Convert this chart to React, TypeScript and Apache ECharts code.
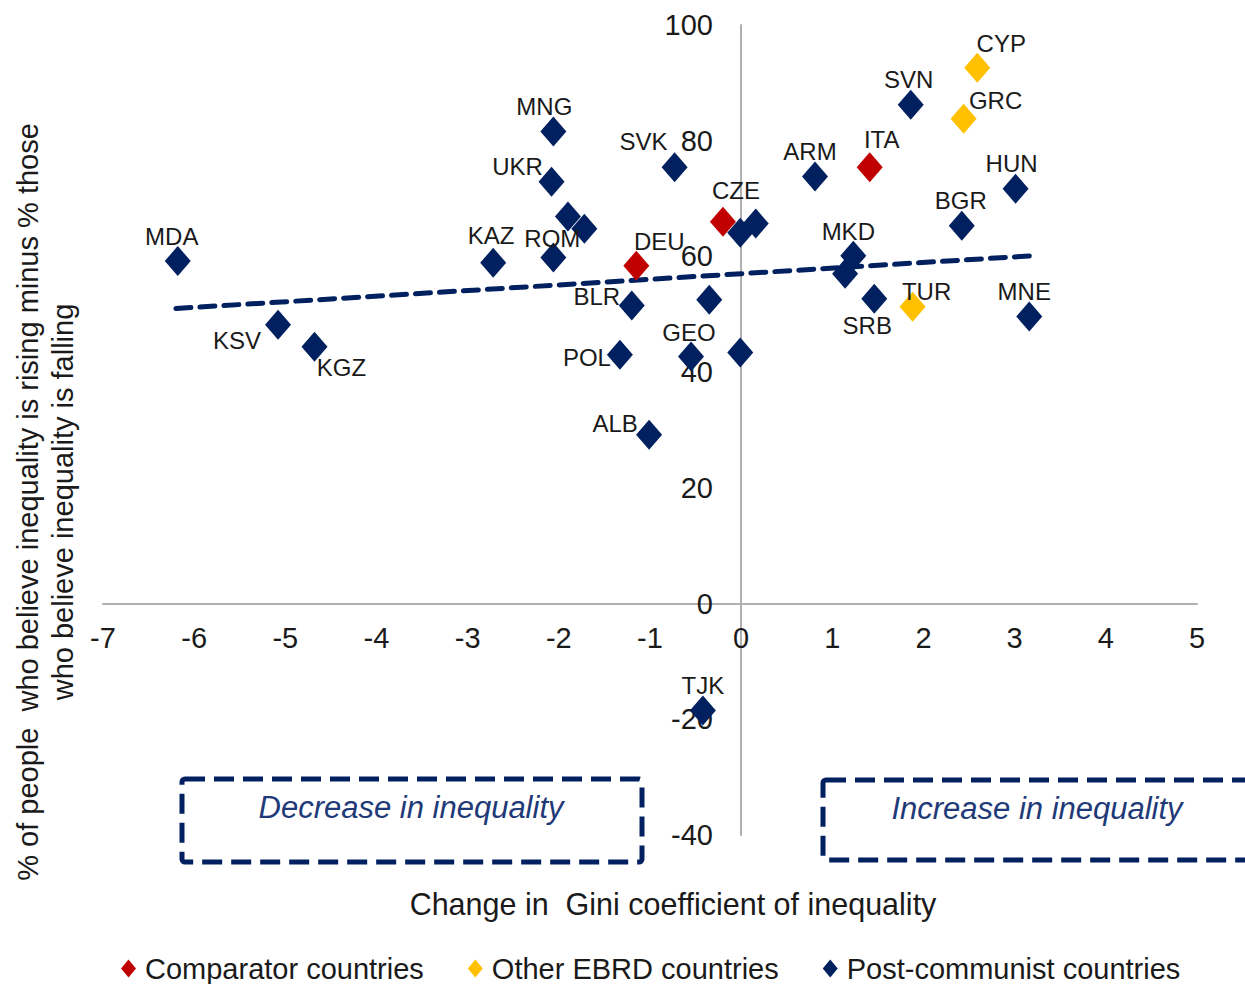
import React, { useEffect, useRef } from "react";
import * as echarts from "echarts";

// ---- Data ----
const comparatorNames = ["DEU", "CZE", "ITA"];
const comparatorX = [-1.15, -0.2, 1.41];
const comparatorY = [58.4, 66.0, 75.4];

const otherNames = ["CYP", "GRC", "TUR"];
const otherX = [2.59, 2.44, 1.88];
const otherY = [92.6, 83.8, 51.3];

const postNames = [
  "MDA", "KSV", "KGZ", "KAZ", "MNG", "UKR", "", "", "ROM", "SVK",
  "BLR", "POL", "GEO", "", "", "ALB", "", "", "ARM", "SVN",
  "HUN", "BGR", "MKD", "", "SRB", "MNE", "TJK",
];
const postX = [
  -6.18, -5.08, -4.68, -2.72, -2.06, -2.08, -1.9, -1.72, -2.06, -0.73,
  -1.2, -1.33, -0.55, -0.35, -0.01, -1.01, -0.01, 0.16, 0.81, 1.86,
  3.01, 2.42, 1.23, 1.14, 1.46, 3.16, -0.42,
];
const postY = [
  59.2, 48.2, 44.4, 58.9, 81.6, 72.9, 66.9, 64.8, 59.8, 75.4,
  51.5, 43.0, 42.7, 52.5, 43.4, 29.2, 64.1, 65.7, 73.8, 86.2,
  71.7, 65.3, 60.1, 57.0, 52.7, 49.6, -18.5,
];

const trendX = [-6.2, 3.18];
const trendY = [51.0, 60.1];

const seriesNames = ["Comparator countries", "Other EBRD countries", "Post-communist countries"];
const xTitle = "Change in  Gini coefficient of inequality";
const yTitle1 = "% of people  who believe inequality is rising minus % those";
const yTitle2 = "who believe inequality is falling";
const boxLeftText = "Decrease in inequality";
const boxRightText = "Increase in inequality";

// ---- Styles ----
const FONT = "'Liberation Sans', Arial, Helvetica, sans-serif";
const NAVY = "#002060";
const RED = "#c00000";
const YELLOW = "#ffc000";
const TEXT = "#1a1a1a";

// label offsets (label centre relative to marker centre), in px
const labelOffsets: Record<string, [number, number]> = {
  MDA: [-6, -25], KSV: [-41, 16], KGZ: [27, 21], KAZ: [-2, -27], MNG: [-9, -25],
  UKR: [-34, -15], ROM: [-1, -19], SVK: [-31, -26], DEU: [23, -24], BLR: [-35, -9],
  POL: [-33, 3], ALB: [-34, -11], GEO: [-2, -24], CZE: [13, -31], ARM: [-5, -25],
  ITA: [12, -28], SVN: [-2, -25], CYP: [24, -24], GRC: [32, -18], HUN: [-4, -25],
  BGR: [-1, -25], MKD: [-5, -24], SRB: [-7, 27], TUR: [14, -15], MNE: [-5, -25],
  TJK: [0, -25],
};

function buildPoints(names: string[], xs: number[], ys: number[]) {
  return xs.map((x, i) => {
    const name = names[i];
    return {
      name,
      value: [x, ys[i]],
      label: {
        show: !!name,
        offset: labelOffsets[name] || [0, 0],
      },
    };
  });
}

export default function App() {
  const ref = useRef<HTMLDivElement>(null);

  useEffect(() => {
    document.body.style.margin = "0";
    if (!ref.current) return;
    const chart = echarts.init(ref.current, undefined, { renderer: "svg" });

    const scatterBase = (name: string, color: string, data: any[], z: number) => ({
      name,
      type: "scatter",
      symbol: "diamond",
      symbolSize: [26, 30],
      itemStyle: { color, opacity: 1 },
      z,
      label: {
        show: true,
        position: "inside",
        formatter: "{b}",
        fontSize: 24,
        fontFamily: FONT,
        color: TEXT,
        textBorderWidth: 0,
      },
      data,
    });

    const gridLeft = 103;
    const gridTop = 25;
    const gridBottomPx = 835;
    const zeroX = 741;
    const zeroY = 604;

    chart.setOption({
      animation: false,
      backgroundColor: "#ffffff",
      grid: { left: gridLeft, right: 48, top: gridTop, bottom: 984 - gridBottomPx, containLabel: false },
      xAxis: {
        type: "value",
        min: -7,
        max: 5,
        interval: 1,
        position: "bottom",
        offset: -(gridBottomPx - zeroY),
        axisLine: { onZero: false, lineStyle: { color: "#b0b0b0", width: 2 } },
        axisTick: { show: false },
        splitLine: { show: false },
        axisLabel: { fontSize: 29, color: TEXT, fontFamily: FONT, margin: 19 },
      },
      yAxis: {
        type: "value",
        min: -40,
        max: 100,
        interval: 20,
        position: "left",
        offset: -(zeroX - gridLeft),
        axisLine: { onZero: false, lineStyle: { color: "#b0b0b0", width: 2 } },
        axisTick: { show: false },
        splitLine: { show: false },
        axisLabel: { fontSize: 29, color: TEXT, fontFamily: FONT, margin: 28 },
      },
      legend: {
        data: seriesNames.map((n) => ({ name: n, icon: "diamond" })),
        left: 116,
        top: 949,
        itemWidth: 15,
        itemHeight: 18,
        itemGap: 44,
        textStyle: { fontSize: 29, lineHeight: 26, color: TEXT, fontFamily: FONT, padding: [0, 0, 0, 4] },
      },
      graphic: [
        {
          type: "rect",
          shape: { x: 182, y: 779, width: 460, height: 83, r: 3 },
          style: { fill: "none", stroke: NAVY, lineWidth: 5, lineDash: [20, 9] },
        },
        {
          type: "text",
          x: 411,
          y: 807,
          style: {
            text: boxLeftText,
            fontSize: 31,
            fontStyle: "italic",
            fontFamily: FONT,
            fill: "#1f3a78",
            textAlign: "center",
            verticalAlign: "middle",
          },
        },
        {
          type: "rect",
          shape: { x: 823, y: 780, width: 440, height: 80, r: 3 },
          style: { fill: "none", stroke: NAVY, lineWidth: 5, lineDash: [20, 9] },
        },
        {
          type: "text",
          x: 1037,
          y: 808,
          style: {
            text: boxRightText,
            fontSize: 31,
            fontStyle: "italic",
            fontFamily: FONT,
            fill: "#1f3a78",
            textAlign: "center",
            verticalAlign: "middle",
          },
        },
        {
          type: "text",
          x: 673,
          y: 904,
          style: {
            text: xTitle,
            fontSize: 30.5,
            fontFamily: FONT,
            fill: TEXT,
            textAlign: "center",
            verticalAlign: "middle",
          },
        },
        {
          type: "text",
          x: 28,
          y: 502,
          rotation: Math.PI / 2,
          style: {
            text: yTitle1,
            fontSize: 29,
            fontFamily: FONT,
            fill: TEXT,
            textAlign: "center",
            verticalAlign: "middle",
          },
        },
        {
          type: "text",
          x: 63,
          y: 502,
          rotation: Math.PI / 2,
          style: {
            text: yTitle2,
            fontSize: 29,
            fontFamily: FONT,
            fill: TEXT,
            textAlign: "center",
            verticalAlign: "middle",
          },
        },
      ],
      series: [
        {
          name: "trend",
          type: "line",
          data: trendX.map((x, i) => [x, trendY[i]]),
          showSymbol: false,
          symbol: "none",
          lineStyle: { color: NAVY, width: 5, type: [15, 9], cap: "round" },
          z: 1,
          silent: true,
        },
        scatterBase(seriesNames[0], RED, buildPoints(comparatorNames, comparatorX, comparatorY), 2),
        scatterBase(seriesNames[1], YELLOW, buildPoints(otherNames, otherX, otherY), 3),
        scatterBase(seriesNames[2], NAVY, buildPoints(postNames, postX, postY), 4),
      ],
    });

    return () => chart.dispose();
  }, []);

  return <div ref={ref} style={{ width: 1245, height: 984 }} />;
}
